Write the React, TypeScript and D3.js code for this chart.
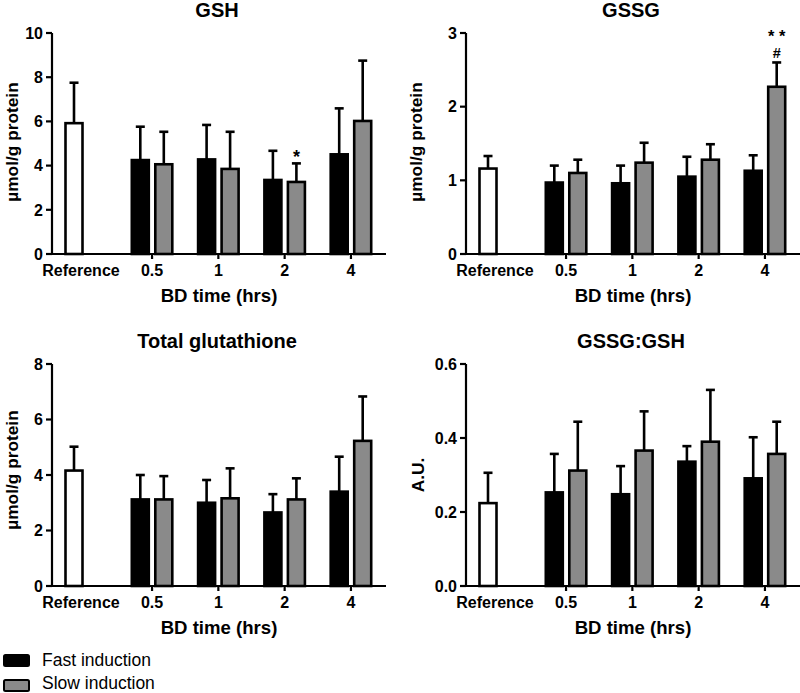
import React from "react";
import * as d3 from "d3";

const groups = ["0.5", "1", "2", "4"];

const gshRef = 5.92;
const gshRefSd = 1.83;
const gshFast = [4.25, 4.28, 3.35, 4.51];
const gshFastSd = [1.51, 1.56, 1.32, 2.08];
const gshSlow = [4.06, 3.85, 3.26, 6.02];
const gshSlowSd = [1.47, 1.68, 0.84, 2.73];

const gssgRef = 1.16;
const gssgRefSd = 0.17;
const gssgFast = [0.97, 0.96, 1.05, 1.13];
const gssgFastSd = [0.23, 0.24, 0.27, 0.21];
const gssgSlow = [1.1, 1.24, 1.28, 2.27];
const gssgSlowSd = [0.18, 0.27, 0.21, 0.33];

const totRef = 4.16;
const totRefSd = 0.86;
const totFast = [3.12, 3.0, 2.65, 3.4];
const totFastSd = [0.88, 0.82, 0.66, 1.26];
const totSlow = [3.12, 3.16, 3.12, 5.23];
const totSlowSd = [0.84, 1.08, 0.76, 1.6];

const ratioRef = 0.224;
const ratioRefSd = 0.082;
const ratioFast = [0.253, 0.248, 0.336, 0.291];
const ratioFastSd = [0.104, 0.076, 0.042, 0.111];
const ratioSlow = [0.312, 0.366, 0.39, 0.357];
const ratioSlowSd = [0.132, 0.106, 0.14, 0.087];

const FONT = "Arial, 'Liberation Sans', Helvetica, sans-serif";
const SLOW_FILL = "#8a8a8a";

type Ann = { group: number; series: "fast" | "slow"; text: string; y: number; size: number };

type PanelProps = {
  ox: number;
  yTop: number;
  yBottom: number;
  max: number;
  ticks: number[];
  tickFmt: (v: number) => string;
  title: string;
  ylabel: string;
  ylabelX: number;
  ylabelY: number;
  ref: number;
  refSd: number;
  fast: number[];
  fastSd: number[];
  slow: number[];
  slowSd: number[];
  anns: Ann[];
};

function Panel(p: PanelProps) {
  const y = d3.scaleLinear().domain([0, p.max]).range([p.yBottom, p.yTop]);
  const slotX = d3.scaleLinear().domain([0, 4]).range([p.ox + 22, p.ox + 22 + 4 * 66.3]);
  const barW = 17;
  const slowOff = 23.5;
  const axisEnd = p.ox + 334;
  const midX = (p.ox + axisEnd) / 2;

  const bar = (cx: number, v: number, sd: number, fill: string, key: string) => {
    const top = y(v);
    const errTop = y(v + sd);
    return (
      <g key={key}>
        <line x1={cx} x2={cx} y1={top} y2={errTop} stroke="#000" strokeWidth={2.6} />
        <line x1={cx - 4.5} x2={cx + 4.5} y1={errTop} y2={errTop} stroke="#000" strokeWidth={2.6} />
        <rect x={cx - barW / 2} y={top} width={barW} height={p.yBottom - top} fill={fill} stroke="#000" strokeWidth={2.6} />
      </g>
    );
  };

  return (
    <g>
      <text x={midX - 2} y={p.yTop - 16} textAnchor="middle" fontFamily={FONT} fontWeight="bold" fontSize={20}>
        {p.title}
      </text>
      <text
        transform={`translate(${p.ylabelX},${p.ylabelY}) rotate(-90)`}
        textAnchor="middle"
        fontFamily={FONT}
        fontWeight="bold"
        fontSize={17.3}
      >
        {p.ylabel}
      </text>
      {/* bars */}
      {bar(slotX(0), p.ref, p.refSd, "#fff", "ref")}
      {groups.map((g, i) => bar(slotX(i + 1), p.fast[i], p.fastSd[i], "#000", "f" + i))}
      {groups.map((g, i) => bar(slotX(i + 1) + slowOff, p.slow[i], p.slowSd[i], SLOW_FILL, "s" + i))}
      {/* axes */}
      <line x1={p.ox} x2={p.ox} y1={p.yTop} y2={p.yBottom} stroke="#000" strokeWidth={2.2} />
      <line x1={p.ox} x2={axisEnd} y1={p.yBottom} y2={p.yBottom} stroke="#000" strokeWidth={2.2} />
      {p.ticks.map((t) => (
        <g key={"yt" + t}>
          <line x1={p.ox - 6} x2={p.ox} y1={y(t)} y2={y(t)} stroke="#000" strokeWidth={2.2} />
          <text x={p.ox - 9} y={y(t)} dy="0.36em" textAnchor="end" fontFamily={FONT} fontWeight="bold" fontSize={16}>
            {p.tickFmt(t)}
          </text>
        </g>
      ))}
      {groups.map((g, i) => {
        const cx = slotX(i + 1) + slowOff / 2;
        return (
          <g key={"xt" + g}>
            <line x1={cx} x2={cx} y1={p.yBottom} y2={p.yBottom + 5} stroke="#000" strokeWidth={2.2} />
            <text x={cx} y={p.yBottom + 22} textAnchor="middle" fontFamily={FONT} fontWeight="bold" fontSize={16}>
              {g}
            </text>
          </g>
        );
      })}
      <text x={slotX(0) + 7} y={p.yBottom + 22} textAnchor="middle" fontFamily={FONT} fontWeight="bold" fontSize={16}>
        Reference
      </text>
      <text x={midX} y={p.yBottom + 48} textAnchor="middle" fontFamily={FONT} fontWeight="bold" fontSize={18.6}>
        BD time (hrs)
      </text>
      {p.anns.map((a, k) => {
        const cx = slotX(a.group + 1) + (a.series === "slow" ? slowOff : 0);
        return (
          <text key={"a" + k} x={cx} y={a.y} textAnchor="middle" fontFamily={FONT} fontWeight="bold" fontSize={a.size}>
            {a.text}
          </text>
        );
      })}
    </g>
  );
}

export default function App() {
  return (
    <svg
      width={800}
      height={693}
      style={{ position: "absolute", left: 0, top: 0, background: "#fff" }}
    >
      <rect x={0} y={0} width={800} height={693} fill="#fff" />
      <Panel
        ox={52}
        yTop={33}
        yBottom={254}
        max={10}
        ticks={[0, 2, 4, 6, 8, 10]}
        tickFmt={(v) => String(v)}
        title="GSH"
        ylabel="µmol/g protein"
        ylabelX={18}
        ylabelY={142}
        ref={gshRef}
        refSd={gshRefSd}
        fast={gshFast}
        fastSd={gshFastSd}
        slow={gshSlow}
        slowSd={gshSlowSd}
        anns={[{ group: 2, series: "slow", text: "*", y: 163, size: 18 }]}
      />
      <Panel
        ox={466}
        yTop={33}
        yBottom={254}
        max={3}
        ticks={[0, 1, 2, 3]}
        tickFmt={(v) => String(v)}
        title="GSSG"
        ylabel="µmol/g protein"
        ylabelX={422}
        ylabelY={142}
        ref={gssgRef}
        refSd={gssgRefSd}
        fast={gssgFast}
        fastSd={gssgFastSd}
        slow={gssgSlow}
        slowSd={gssgSlowSd}
        anns={[
          { group: 3, series: "slow", text: "* *", y: 42, size: 16.5 },
          { group: 3, series: "slow", text: "#", y: 58, size: 14.5 },
        ]}
      />
      <Panel
        ox={52}
        yTop={364}
        yBottom={586}
        max={8}
        ticks={[0, 2, 4, 6, 8]}
        tickFmt={(v) => String(v)}
        title="Total glutathione"
        ylabel="µmol/g protein"
        ylabelX={18}
        ylabelY={470}
        ref={totRef}
        refSd={totRefSd}
        fast={totFast}
        fastSd={totFastSd}
        slow={totSlow}
        slowSd={totSlowSd}
        anns={[]}
      />
      <Panel
        ox={466}
        yTop={364}
        yBottom={586}
        max={0.6}
        ticks={[0, 0.2, 0.4, 0.6]}
        tickFmt={(v) => d3.format(".1f")(v)}
        title="GSSG:GSH"
        ylabel="A.U."
        ylabelX={424}
        ylabelY={475}
        ref={ratioRef}
        refSd={ratioRefSd}
        fast={ratioFast}
        fastSd={ratioFastSd}
        slow={ratioSlow}
        slowSd={ratioSlowSd}
        anns={[]}
      />
      {/* legend */}
      <rect x={4} y={655} width={25} height={11} fill="#000" stroke="#000" strokeWidth={2} rx={1.5} />
      <text x={42} y={666} fontFamily={FONT} fontSize={17.5}>
        Fast induction
      </text>
      <rect x={4} y={680} width={25} height={11} fill={SLOW_FILL} stroke="#000" strokeWidth={2} rx={1.5} />
      <text x={42} y={689} fontFamily={FONT} fontSize={17.5}>
        Slow induction
      </text>
    </svg>
  );
}
